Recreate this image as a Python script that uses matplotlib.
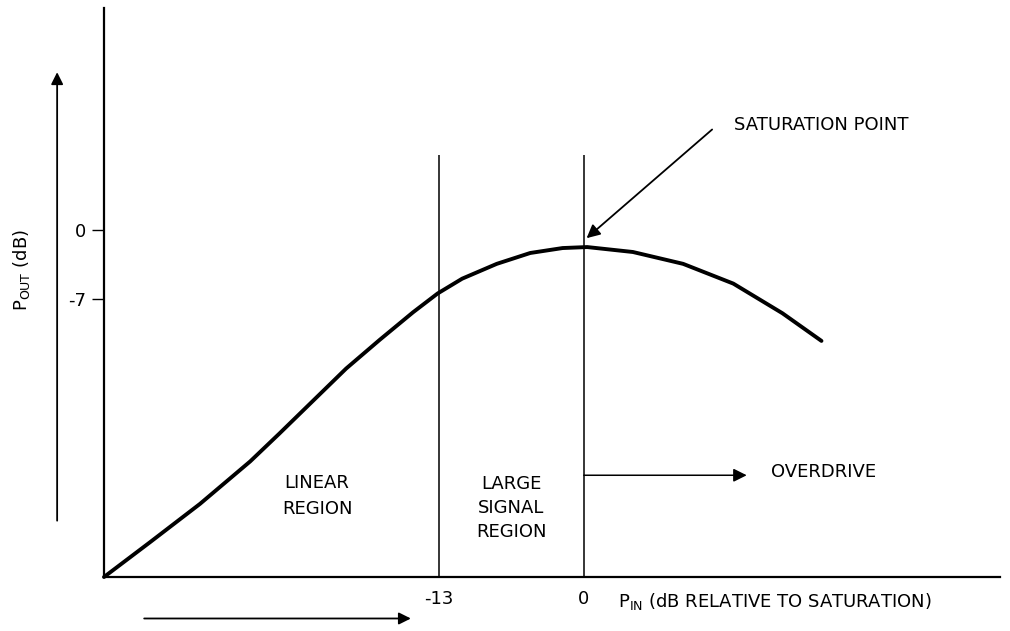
import matplotlib.pyplot as plt

plt.rcParams['font.family'] = ['DejaVu Sans']

# P_IN (dB) vs P_OUT (dB)
pin = [-43.0, -38.9, -34.4, -29.9, -27.3, -24.3, -21.3, -18.3, -15.3, -13.1,
       -10.9, -7.8, -4.8, -1.9, 0.3, 4.4, 8.9, 13.4, 17.8, 21.3]
pout = [-35.1, -31.6, -27.7, -23.4, -20.6, -17.3, -14.0, -11.1, -8.3, -6.4,
        -4.9, -3.4, -2.3, -1.8, -1.7, -2.2, -3.4, -5.4, -8.4, -11.2]

x_ticks = [-13, 0]
x_tick_labels = ['-13', '0']
y_ticks = [0, -7]
y_tick_labels = ['0', '-7']
region_bounds = [-13, 0]

FS = 13

fig = plt.figure(figsize=(10.10, 6.31), dpi=100)
ax = fig.add_axes([104 / 1010, 54 / 631, 896 / 1010, 569 / 631])
ax.set_xlim(-43.0, 37.3)
ax.set_ylim(-35.1, 22.5)

for s in ['top', 'right']:
    ax.spines[s].set_visible(False)
for s in ['left', 'bottom']:
    ax.spines[s].set_linewidth(1.6)

ax.set_xticks(x_ticks)
ax.set_xticklabels(x_tick_labels, fontsize=FS)
ax.tick_params(axis='x', length=0, pad=9)
ax.set_yticks(y_ticks)
ax.set_yticklabels(y_tick_labels, fontsize=FS)
ax.tick_params(axis='y', length=9, width=1.0, pad=4)

# curve
ax.plot(pin, pout, color='black', lw=2.8, solid_capstyle='round',
        solid_joinstyle='round', clip_on=False)

# region boundaries
ax.vlines(region_bounds, -35.1, 7.6, color='black', lw=1.1)

# region labels
ax.text(-23.9, -26.9, 'LINEAR\nREGION', ha='center', va='center',
        fontsize=FS, linespacing=1.55)
ax.text(-6.5, -28.1, 'LARGE\nSIGNAL\nREGION', ha='center', va='center',
        fontsize=FS, linespacing=1.45)

# overdrive arrow
ax.annotate('', xy=(14.6, -24.8), xytext=(0, -24.8),
            arrowprops=dict(arrowstyle='-|>', color='black', lw=1.1,
                            mutation_scale=20, shrinkA=0, shrinkB=0))
ax.text(16.8, -24.5, 'OVERDRIVE', ha='left', va='center', fontsize=FS)

# saturation point arrow
ax.annotate('', xy=(0.25, -0.8), xytext=(11.5, 10.2),
            arrowprops=dict(arrowstyle='-|>', color='black', lw=1.3,
                            mutation_scale=20, shrinkA=0, shrinkB=0))
ax.text(13.5, 10.7, 'SATURATION POINT', ha='left', va='center', fontsize=FS)

# axis direction arrows outside the axes
ax.annotate('', xy=(-47.2, 16.0), xytext=(-47.2, -29.4), annotation_clip=False,
            arrowprops=dict(arrowstyle='-|>', color='black', lw=1.3,
                            mutation_scale=18, shrinkA=0, shrinkB=0))
ax.annotate('', xy=(-15.5, -39.3), xytext=(-39.4, -39.3), annotation_clip=False,
            arrowprops=dict(arrowstyle='-|>', color='black', lw=1.3,
                            mutation_scale=18, shrinkA=0, shrinkB=0))

# axis labels
fig.text(22 / 1010, 1 - 270 / 631, r'$\mathregular{P_{OUT}}$ (dB)', rotation=90,
         ha='center', va='center', fontsize=FS)
fig.text(618 / 1010, 1 - 602 / 631,
         r'$\mathregular{P_{IN}}$ (dB RELATIVE TO SATURATION)',
         ha='left', va='center', fontsize=FS)

fig.savefig('out.png', dpi=100)
